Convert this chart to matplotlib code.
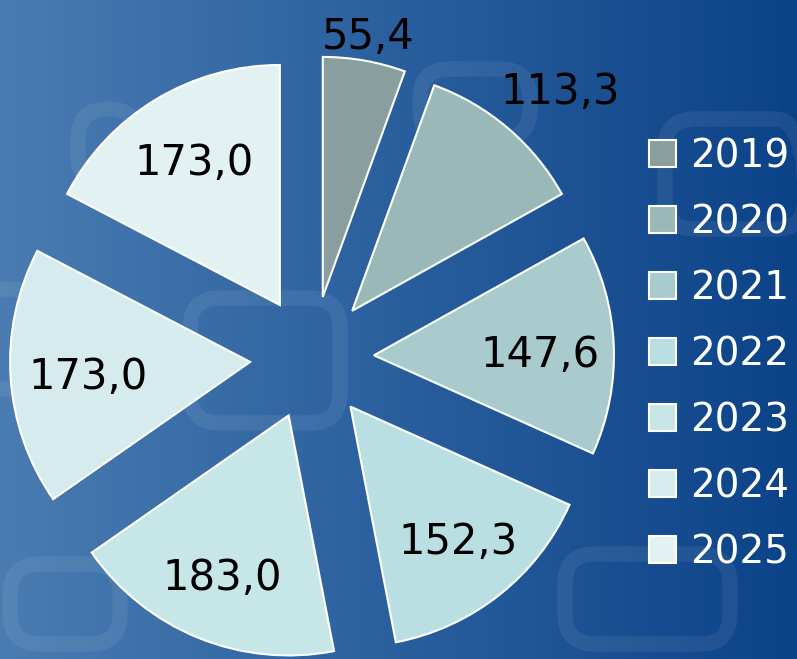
import numpy as np
import matplotlib
matplotlib.use("Agg")
import matplotlib.pyplot as plt
from matplotlib.colors import LinearSegmentedColormap
from matplotlib.patches import FancyBboxPatch

years = ['2019', '2020', '2021', '2022', '2023', '2024', '2025']
values = [55.4, 113.3, 147.6, 152.3, 183.0, 173.0, 173.0]
labels = ['55,4', '113,3', '147,6', '152,3', '183,0', '173,0', '173,0']
colors = ['#899f9f', '#9bb8b9', '#a9cbcd', '#b9dfe3', '#c7e6e8', '#d5ebed', '#e2f2f2']
# where each value label sits: fraction of radius from wedge tip, and angle nudge (deg)
label_dist = [1.10, 1.257, 0.69, 0.72, 0.73, 0.68, 0.69]
label_turn = [0, -3.1, -2.4, 0, 0, 1.7, 0]

W, H = 797, 659
fig = plt.figure(figsize=(W / 100, H / 100), dpi=100)
ax = fig.add_axes([0, 0, 1, 1])

# blue gradient background
bg = LinearSegmentedColormap.from_list('bg', ['#4a7cb1', '#2a5f9e', '#0c4288'])
grad = np.linspace(0, 1, 256).reshape(1, -1)
ax.imshow(grad, cmap=bg, extent=[0, W, 0, H], aspect='auto', zorder=0)

# faint chain-link decoration
links = [(78, 475, 60, 75), (190, 236, 150, 125), (10, 15, 110, 80), (565, 15, 165, 90),
         (665, 430, 140, 110), (-40, 270, 80, 100), (420, 520, 110, 70)]
for x0, y0, w0, h0 in links:
    ax.add_patch(FancyBboxPatch((x0, y0), w0, h0, boxstyle='round,pad=0,rounding_size=30',
                                fill=False, edgecolor='white', alpha=0.07, lw=11, zorder=1))

R = 240
# explode is in data units here (pixels)
wedges, _ = ax.pie(values, colors=colors, startangle=90, counterclock=False,
                   center=(312, 301), radius=R, explode=[62] * len(values),
                   wedgeprops=dict(edgecolor='white', linewidth=1.5, zorder=2),
                   frame=True)
ax.set_xlim(0, W)
ax.set_ylim(0, H)
ax.set_aspect('equal')
ax.axis('off')

for w, lab, d, t in zip(wedges, labels, label_dist, label_turn):
    th = np.deg2rad((w.theta1 + w.theta2) / 2 + t)
    cx, cy = w.center
    ax.text(cx + d * w.r * np.cos(th), cy + d * w.r * np.sin(th), lab,
            ha='center', va='center', fontsize=30, color='black', zorder=5)

leg = ax.legend(wedges, years, loc='upper left', bbox_to_anchor=(649 / W, 1 - 137 / H),
                bbox_transform=fig.transFigure, frameon=False, fontsize=28,
                labelcolor='white', handlelength=0.69, handleheight=0.69,
                handletextpad=0.36, labelspacing=0.72, borderaxespad=0, borderpad=0)

fig.savefig('out.png', dpi=100)
